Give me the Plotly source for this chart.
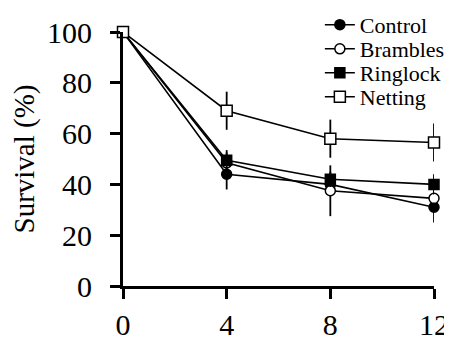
import plotly.graph_objects as go

weeks = [0, 4, 8, 12]
control = [100, 44, 40, 31]
control_err = [0, 6, 4, 6]
brambles = [100, 48.5, 37.5, 34.5]
brambles_err = [0, 4, 10, 4]
ringlock = [100, 49.5, 42, 40]
ringlock_err = [0, 4, 3, 4]
netting = [100, 69, 58, 56.5]
netting_err = [0, 7.5, 7.5, 7.5]

series = [
    ("Control", control, control_err, "circle", "black", 10),
    ("Brambles", brambles, brambles_err, "circle", "white", 10),
    ("Ringlock", ringlock, ringlock_err, "square", "black", 10),
    ("Netting", netting, netting_err, "square", "white", 11),
]
legend_ids = ["legend", "legend2", "legend3", "legend4"]
legend_rows = [1.028, 0.933, 0.839, 0.744]

font = "Liberation Serif"

fig = go.Figure()
for (name, vals, err, sym, fill, size), lid in zip(series, legend_ids):
    fig.add_trace(go.Scatter(
        x=weeks, y=vals, name=name, mode="lines+markers",
        line=dict(color="black", width=1.6),
        marker=dict(symbol=sym, size=size, color=fill,
                    line=dict(color="black", width=1.5)),
        error_y=dict(type="data", array=err, visible=True,
                     color="black", thickness=1.8, width=0),
        cliponaxis=False,
        legend=lid,
    ))

legend_layout = {}
for lid, ly in zip(legend_ids, legend_rows):
    legend_layout[lid] = dict(
        x=0.633, y=ly, xanchor="left", yanchor="middle",
        font=dict(size=22, family=font, color="black"),
        bgcolor="rgba(0,0,0,0)", borderwidth=0,
    )

fig.update_layout(
    width=444, height=334,
    margin=dict(l=115, r=18, t=24, b=56, autoexpand=False),
    paper_bgcolor="white", plot_bgcolor="white",
    font=dict(family=font, color="black"),
    showlegend=True,
    xaxis=dict(range=[0, 12], tickvals=weeks, ticktext=[str(w) for w in weeks],
               showgrid=False, zeroline=False, showline=True,
               linecolor="black", linewidth=3,
               ticks="outside", ticklen=10, tickwidth=3, tickcolor="black",
               tickfont=dict(size=30, family=font), automargin=False),
    yaxis=dict(range=[0, 100], tickvals=[0, 20, 40, 60, 80, 100],
               title=dict(text="Survival (%)", font=dict(size=29, family=font), standoff=14),
               showgrid=False, zeroline=False, showline=True,
               linecolor="black", linewidth=3,
               ticks="outside", ticklen=10, tickwidth=3, tickcolor="black",
               ticklabelstandoff=12,
               tickfont=dict(size=30, family=font), automargin=False),
    **legend_layout,
)

fig.write_html("out.html")
